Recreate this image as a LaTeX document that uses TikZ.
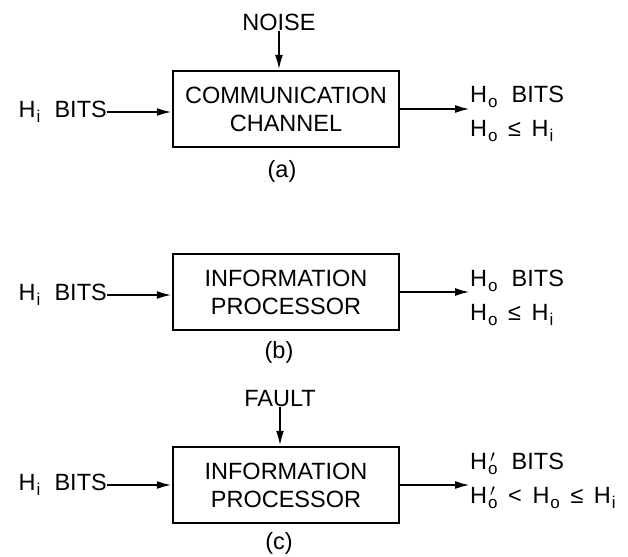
\documentclass[tikz,border=0pt]{standalone}
\usepackage{fontspec}
\setmainfont{Liberation Sans}
\usetikzlibrary{arrows.meta,positioning}
\newcommand{\sbs}[1]{\raisebox{-5pt}{\fontsize{17}{17}\selectfont #1}}
\newcommand{\Hs}[1]{H\kern1pt\sbs{#1}}
\newcommand{\Hp}{H\kern1pt\rlap{\raisebox{7pt}{\fontsize{17}{17}\selectfont\kern2pt$\prime$}}\sbs{o}}
\newcommand{\gap}{\hspace{0.6em}}
\newcommand{\rgap}{\hspace{0.45em}}

\begin{document}
\begin{tikzpicture}[x=1pt,y=-1pt,>={Latex[length=15pt,width=8pt]},
  block/.style={draw,line width=2.4pt,minimum width=226pt,minimum height=76pt,
    align=center,inner sep=0pt,font=\fontsize{23.5}{28}\selectfont},
  lbl/.style={inner sep=0pt,font=\fontsize{23.5}{34}\selectfont},
  link/.style={->,line width=2.2pt}]
\useasboundingbox (0,0) rectangle (628,556);
% (a) channel
\node[block] (chanA) at (286,109) {COMMUNICATION\\CHANNEL};
\node[lbl] (noiseA) at (279,22) {NOISE};
\node[lbl,anchor=east] (inA) at (107,112) {\Hs{i}\gap BITS};
\node[lbl,anchor=west,align=left] (outA) at (470,114) {\Hs{o}\gap BITS\\\Hs{o}\rgap ≤\rgap\Hs{i}};
\node[lbl] (capA) at (282,171) {(a)};
\draw[link] (noiseA) -- (noiseA |- chanA.north);
\draw[link] (inA) -- (inA -| chanA.west);
\draw[link] (chanA.east) -- (chanA.east -| outA.west);
% (b) processor
\node[block] (procB) at (286,292) {INFORMATION\\PROCESSOR};
\node[lbl,anchor=east] (inB) at (107,295) {\Hs{i}\gap BITS};
\node[lbl,anchor=west,align=left] (outB) at (470,298) {\Hs{o}\gap BITS\\\Hs{o}\rgap ≤\rgap\Hs{i}};
\node[lbl] (capB) at (279,352) {(b)};
\draw[link] (inB) -- (inB -| procB.west);
\draw[link] (procB.east) -- (procB.east -| outB.west);
% (c) processor with fault
\node[block] (procC) at (286,485) {INFORMATION\\PROCESSOR};
\node[lbl] (faultC) at (280,399) {FAULT};
\node[lbl,anchor=east] (inC) at (107,485) {\Hs{i}\gap BITS};
\node[lbl,anchor=west,align=left] (outC) at (470,481) {\Hp\gap BITS\\\Hp\rgap <\rgap\Hs{o}\rgap ≤\rgap\Hs{i}};
\node[lbl] (capC) at (279,543) {(c)};
\draw[link] (faultC) -- (faultC |- procC.north);
\draw[link] (inC) -- (inC -| procC.west);
\draw[link] (procC.east) -- (procC.east -| outC.west);
\end{tikzpicture}
\end{document}
